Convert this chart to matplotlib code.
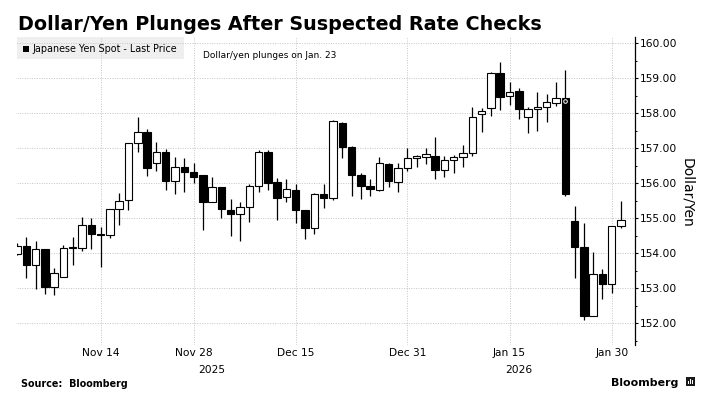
import matplotlib
matplotlib.use("Agg")
import matplotlib.pyplot as plt
from matplotlib.patches import Rectangle
from matplotlib.ticker import FixedLocator, FuncFormatter, MultipleLocator
import matplotlib.transforms as mtransforms

plt.rcParams['font.family'] = ['DejaVu Sans']

dates = [
    "2025-11-03", "2025-11-04", "2025-11-05", "2025-11-06", "2025-11-07",
    "2025-11-10", "2025-11-11", "2025-11-12", "2025-11-13", "2025-11-14",
    "2025-11-17", "2025-11-18", "2025-11-19", "2025-11-20", "2025-11-21",
    "2025-11-24", "2025-11-25", "2025-11-26", "2025-11-27", "2025-11-28",
    "2025-12-01", "2025-12-02", "2025-12-03", "2025-12-04", "2025-12-05",
    "2025-12-08", "2025-12-09", "2025-12-10", "2025-12-11", "2025-12-12",
    "2025-12-15", "2025-12-16", "2025-12-17", "2025-12-18", "2025-12-19",
    "2025-12-22", "2025-12-23", "2025-12-24", "2025-12-25", "2025-12-26",
    "2025-12-29", "2025-12-30", "2025-12-31", "2026-01-01", "2026-01-02",
    "2026-01-05", "2026-01-06", "2026-01-07", "2026-01-08", "2026-01-09",
    "2026-01-12", "2026-01-13", "2026-01-14", "2026-01-15", "2026-01-16",
    "2026-01-19", "2026-01-20", "2026-01-21", "2026-01-22", "2026-01-23",
    "2026-01-26", "2026-01-27", "2026-01-28", "2026-01-29", "2026-01-30",
    "2026-02-02",
]

opens = [
    153.97, 154.22, 153.67, 154.11, 153.05, 153.33, 154.15, 154.16, 154.81, 154.55,
    154.52, 155.27, 155.52, 157.16, 157.46, 156.57, 156.89, 156.07, 156.48, 156.31,
    156.23, 155.46, 155.89, 155.24, 155.11, 155.31, 155.92, 156.89, 156.03, 155.60,
    155.81, 155.24, 154.71, 155.69, 155.57, 157.71, 157.05, 156.24, 155.93, 155.81,
    156.54, 156.05, 156.43, 156.71, 156.74, 156.79, 156.38, 156.67, 156.76, 156.86,
    157.99, 158.14, 159.16, 158.50, 158.64, 157.89, 158.12, 158.17, 158.30, 158.43,
    154.92, 154.19, 152.21, 153.40, 153.11, 154.78,
]
highs = [
    154.29, 154.47, 154.36, 154.11, 153.57, 154.24, 154.48, 155.03, 155.00, 154.74,
    155.27, 155.73, 157.16, 157.89, 157.54, 157.19, 156.98, 156.74, 156.73, 156.57,
    156.23, 156.19, 155.89, 155.54, 155.48, 155.98, 156.95, 156.95, 156.14, 156.11,
    155.98, 155.24, 155.73, 155.98, 157.81, 157.76, 157.07, 156.29, 156.11, 156.74,
    156.57, 156.59, 157.02, 156.81, 157.00, 157.31, 156.78, 156.81, 157.10, 158.17,
    158.14, 159.19, 159.48, 158.90, 158.71, 158.17, 158.62, 158.54, 158.89, 159.24,
    155.35, 154.88, 154.05, 153.54, 154.78, 155.50,
]
lows = [
    153.95, 153.30, 152.97, 152.84, 152.81, 153.33, 153.67, 154.07, 154.11, 153.62,
    154.43, 154.81, 155.24, 156.90, 156.21, 156.35, 155.81, 155.69, 155.74, 156.00,
    154.67, 155.46, 155.00, 154.50, 154.36, 154.90, 155.74, 155.81, 154.95, 155.46,
    154.86, 154.40, 154.55, 155.29, 155.52, 156.71, 155.65, 155.55, 155.65, 155.78,
    155.90, 155.75, 156.36, 156.46, 156.55, 156.13, 156.19, 156.30, 156.48, 156.78,
    157.46, 157.92, 158.10, 158.24, 157.83, 157.45, 157.50, 157.76, 158.21, 155.65,
    153.30, 152.10, 152.20, 152.69, 152.88, 154.71,
]
closes = [
    154.22, 153.67, 154.11, 153.05, 153.43, 154.14, 154.19, 154.81, 154.55, 154.53,
    155.27, 155.50, 157.16, 157.46, 156.43, 156.90, 156.07, 156.48, 156.31, 156.19,
    155.46, 155.89, 155.26, 155.11, 155.33, 155.92, 156.89, 156.02, 155.59, 155.83,
    155.24, 154.71, 155.69, 155.57, 157.78, 157.05, 156.24, 155.93, 155.84, 156.57,
    156.07, 156.43, 156.71, 156.77, 156.83, 156.38, 156.67, 156.76, 156.88, 157.89,
    158.06, 159.16, 158.48, 158.62, 158.12, 158.11, 158.17, 158.31, 158.43, 155.69,
    154.19, 152.21, 153.40, 153.11, 154.78, 154.95,
]

xtick_dates = ["2025-11-14", "2025-11-28", "2025-12-15", "2025-12-31", "2026-01-15", "2026-01-30"]
xtick_labels = ["Nov 14", "Nov 28", "Dec 15", "Dec 31", "Jan 15", "Jan 30"]
year_labels = [("2025", "2025-12-02"), ("2026", "2026-01-16")]
yticks = [152, 153, 154, 155, 156, 157, 158, 159, 160]

title = "Dollar/Yen Plunges After Suspected Rate Checks"
legend_label = "Japanese Yen Spot - Last Price"
annotation = "Dollar/yen plunges on Jan. 23"
annot_date = "2026-01-23"
ylabel = "Dollar/Yen"

W, H = 707, 398
fig = plt.figure(figsize=(W / 100, H / 100), dpi=100)
fig.patch.set_facecolor("white")
ax = fig.add_axes([16.7 / W, 1 - 345 / H, (634.5 - 16.7) / W, (345 - 36.7) / H])
ax.set_facecolor("white")

xs = list(range(len(dates)))
idx = {d: i for i, d in enumerate(dates)}

grid_color = "#c4c4c4"
for y in yticks:
    ax.axhline(y, color=grid_color, lw=0.7, ls=(0, (1, 1.5)), zorder=0.5)
for d in xtick_dates:
    ax.axvline(idx[d], color=grid_color, lw=0.7, ls=(0, (1, 1.5)), zorder=0.5)

bw = 0.8
for x, o, h, l, c in zip(xs, opens, highs, lows, closes):
    ax.vlines(x, l, h, color="black", lw=0.9, zorder=2)
    lo, hi = min(o, c), max(o, c)
    ht = max(hi - lo, 0.02)
    fc = "black" if c < o else "white"
    ax.add_patch(Rectangle((x - bw / 2, lo), bw, ht, facecolor=fc,
                           edgecolor="black", lw=0.8, zorder=3))

ai = idx[annot_date]
ax.plot(ai, opens[ai] - 0.07, marker="o", ms=2.6, mfc="none", mec="white", mew=0.7, zorder=4)

ax.set_xlim(-0.03, 66.45)
ax.set_ylim(151.38, 160.19)

for s in ["top", "left", "bottom"]:
    ax.spines[s].set_visible(False)
ax.spines["right"].set_linewidth(0.9)

ax.yaxis.tick_right()
ax.yaxis.set_major_locator(FixedLocator(yticks))
ax.yaxis.set_minor_locator(MultipleLocator(0.5))
ax.yaxis.set_major_formatter(FuncFormatter(lambda v, p: f"{v:.2f}"))
ax.tick_params(axis="y", which="major", direction="out", length=2.5, width=0.8,
               pad=1.5, labelsize=7.7, colors="black")
ax.tick_params(axis="y", which="minor", direction="out", length=1.5, width=0.7)

ax.set_xticks([idx[d] for d in xtick_dates])
ax.set_xticklabels(xtick_labels)
ax.tick_params(axis="x", length=0, pad=2.5, labelsize=7.7)

trans = mtransforms.blended_transform_factory(ax.transData, fig.transFigure)
for lab, d in year_labels:
    ax.text(idx[d], 1 - 372.7 / H, lab, transform=trans, ha="center", va="baseline",
            fontsize=7.7, clip_on=False)

# legend box
ax.add_patch(Rectangle((17 / W, 1 - 59 / H), (184 - 17) / W, 22 / H, transform=fig.transFigure,
                       facecolor="#efefef", edgecolor="none", zorder=0.2))
fig.patches.append(Rectangle((23.3 / W, 1 - 51.5 / H), 6 / W, 6 / H, transform=fig.transFigure,
                             facecolor="black", edgecolor="none"))
fig.text(32 / W, 1 - 51.7 / H, legend_label, fontsize=6.9, va="baseline", ha="left")

fig.text(203 / W, 1 - 58.3 / H, annotation, fontsize=6.5, va="baseline", ha="left")

fig.text(18 / W, 1 - 29.5 / H, title, fontsize=13.8, fontweight="bold", va="baseline", ha="left")

fig.text(686.7 / W, 1 - 192.5 / H, ylabel, rotation=270, fontsize=10,
         ha="center", va="center")

fig.text(20.7 / W, 1 - 387 / H, "Source:  Bloomberg", fontsize=6.9, fontweight="bold",
         va="baseline", ha="left")
fig.text(611 / W, 1 - 385.5 / H, "Bloomberg", fontsize=7.9, fontweight="bold",
         va="baseline", ha="left")
fig.patches.append(Rectangle((685.5 / W, 1 - 386 / H), 9 / W, 9.5 / H,
                             transform=fig.transFigure, facecolor="#1a1a1a",
                             edgecolor="none"))
for bx, bh in [(687.6, 3.0), (689.6, 5.0), (691.6, 4.0)]:
    fig.patches.append(Rectangle((bx / W, 1 - 383.5 / H), 1.0 / W, bh / H,
                                 transform=fig.transFigure, facecolor="white", edgecolor="none"))

fig.savefig("out.png", dpi=100, facecolor="white")
